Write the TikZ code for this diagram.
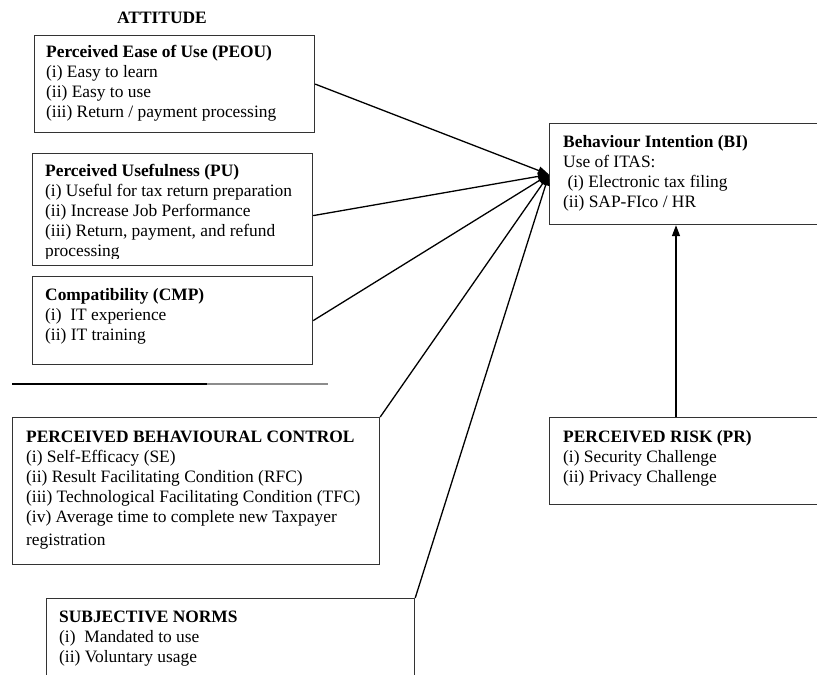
\documentclass[tikz,border=0pt]{standalone}
\usepackage{fontspec}
\setmainfont{Liberation Serif}
\usetikzlibrary{arrows.meta,calc}
\begin{document}
\begin{tikzpicture}[x=1pt,y=-1pt,
  box/.style={draw=black!80, line width=1.2pt, rectangle, inner sep=0pt, anchor=north west},
  txt/.style={anchor=north west, inner sep=0pt, align=left, font=\fontsize{17.4}{20}\selectfont},
  conn/.style={line width=1.3pt, black, -{Triangle[length=11pt,width=8pt]}}]
\useasboundingbox (0,0) rectangle (817,675);
\clip (0,0) rectangle (817,675);
\fill[white] (0,0) rectangle (817,675);

% title
\node[anchor=base, inner sep=0pt, font=\fontsize{17.4}{20}\selectfont\bfseries] (att) at (162,23) {ATTITUDE};

% boxes
\node[box, minimum width=280pt, minimum height=97pt] (peou) at (34,35) {};
\node[box, minimum width=280pt, minimum height=112pt] (pu) at (32,153) {};
\node[box, minimum width=280pt, minimum height=88pt] (cmp) at (32,276) {};
\node[box, minimum width=367pt, minimum height=147pt] (pbc) at (12,417) {};
\node[box, minimum width=368pt, minimum height=140pt] (sn) at (46,598) {};
\node[box, minimum width=400pt, minimum height=101pt] (bi) at (549,123) {};
\node[box, minimum width=400pt, minimum height=87pt] (pr) at (549,417) {};

% texts
\node[txt] (peout) at (46,43) {\strut\textbf{Perceived Ease of Use (PEOU)}\\(i) Easy to learn\\(ii) Easy to use\\(iii) Return / payment processing};
\begin{scope}
\clip (32,153) rectangle (312,258);
\node[txt] (put) at (45,162) {\strut\textbf{Perceived Usefulness (PU)}\\(i) Useful for tax return preparation\\(ii) Increase Job Performance\\(iii) Return, payment, and refund\\processing};
\end{scope}
\node[txt] (cmpt) at (45,286) {\strut\textbf{Compatibility (CMP)}\\(i)~ IT experience\\(ii) IT training};
\node[txt] (pbct) at (26,428) {\strut\textbf{PERCEIVED BEHAVIOURAL CONTROL}\\(i) Self-Efficacy (SE)\\(ii) Result Facilitating Condition (RFC)\\(iii) Technological Facilitating Condition (TFC)\\(iv) Average time to complete new Taxpayer\\[3pt]registration};
\node[txt] (snt) at (59,608) {\strut\textbf{SUBJECTIVE NORMS}\\(i)~ Mandated to use\\(ii) Voluntary usage};
\node[txt] (bit) at (563,133) {\strut\textbf{Behaviour Intention (BI)}\\Use of ITAS:\\\ (i) Electronic tax filing\\(ii) SAP-FIco / HR};
\node[txt] (prt) at (563,428) {\strut\textbf{PERCEIVED RISK (PR)}\\(i) Security Challenge\\(ii) Privacy Challenge};

% separator line
\coordinate (l1) at (12,384);
\coordinate (l2) at (207,384);
\coordinate (l3) at (328,384);
\draw[line width=1.2pt, black] (l1) -- (l2);
\draw[line width=1.2pt, black!45] (l2) -- (l3);

% connectors
\coordinate (tip) at (549,174.5);
\draw[conn] (peou.east) -- (tip);
\draw[conn] ([yshift=-6pt]pu.east) -- (tip);
\draw[conn] (cmp.east) -- (tip);
\draw[conn] (pbc.north east) -- (tip);
\draw[conn] (sn.north east) -- (tip);
\coordinate (prx) at (676,0);
\draw[conn] (pr.north -| prx) -- (bi.south -| prx);
\end{tikzpicture}
\end{document}
